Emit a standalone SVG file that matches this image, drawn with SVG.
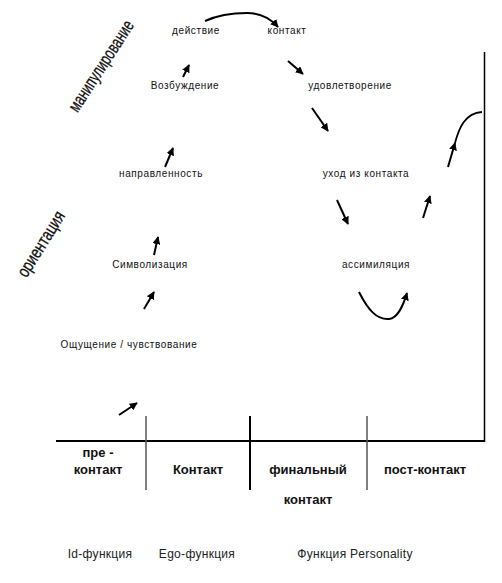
<svg xmlns="http://www.w3.org/2000/svg" width="502" height="583" viewBox="0 0 502 583">
<defs>
<marker id="ah" viewBox="0 0 10 10" refX="9" refY="5" markerWidth="4" markerHeight="4" orient="auto" markerUnits="strokeWidth">
<path d="M0,0 L10,5 L0,10 Z" fill="#000"/>
</marker>
<style>
.n{font-family:"Liberation Sans",Arial,sans-serif;font-size:10px;letter-spacing:0.6px;fill:#111;text-anchor:middle}
.b{font-family:"Liberation Sans",Arial,sans-serif;font-size:13px;font-weight:bold;fill:#111;text-anchor:middle}
.f{font-family:"Liberation Sans",Arial,sans-serif;font-size:12px;letter-spacing:0.3px;fill:#222;text-anchor:middle}
.r{font-family:"Liberation Sans",Arial,sans-serif;font-size:18px;fill:#111;stroke:#111;stroke-width:0.3;text-anchor:middle}
.a{fill:none;stroke:#000;stroke-width:2;marker-end:url(#ah)}
.c{fill:none;stroke:#000;stroke-width:1.8}
</style>
</defs>
<rect width="502" height="583" fill="#fff"/>

<g id="axes">
<line x1="56" y1="441" x2="485" y2="441" stroke="#000" stroke-width="2"/>
<line x1="484.5" y1="52" x2="484.5" y2="442" stroke="#000" stroke-width="1.5"/>
<line x1="146" y1="416" x2="146" y2="490" stroke="#555" stroke-width="1.5"/>
<line x1="250" y1="416" x2="250" y2="490" stroke="#000" stroke-width="2"/>
<line x1="367" y1="416" x2="367" y2="490" stroke="#555" stroke-width="1.5"/>
</g>

<g id="label-manip"><text class="r" transform="translate(101,66) rotate(-57)" y="6" textLength="105" lengthAdjust="spacingAndGlyphs">манипулирование</text></g>
<g id="label-orient"><text class="r" transform="translate(41,244) rotate(-58)" y="6" textLength="74" lengthAdjust="spacingAndGlyphs">ориентация</text></g>

<g id="n-deystvie"><text class="n" x="196" y="34">действие</text></g>
<g id="n-kontakt"><text class="n" x="287" y="34">контакт</text></g>
<g id="n-vozb"><text class="n" x="185" y="89">Возбуждение</text></g>
<g id="n-udovl"><text class="n" x="350" y="89">удовлетворение</text></g>
<g id="n-naprav"><text class="n" x="161" y="177">направленность</text></g>
<g id="n-ukhod"><text class="n" x="366" y="177">уход из контакта</text></g>
<g id="n-simv"><text class="n" x="150" y="268">Символизация</text></g>
<g id="n-assim"><text class="n" x="376" y="268">ассимиляция</text></g>
<g id="n-oshch"><text class="n" x="129" y="348">Ощущение / чувствование</text></g>

<g id="phases">
<text class="b" x="98" y="457">пре -</text>
<text class="b" x="98" y="474">контакт</text>
<text class="b" x="198" y="474">Контакт</text>
<text class="b" x="308" y="474">финальный</text>
<text class="b" x="308" y="504">контакт</text>
<text class="b" x="425" y="474">пост-контакт</text>
</g>

<g id="functions">
<text class="f" x="100" y="558">Id-функция</text>
<text class="f" x="197" y="558">Ego-функция</text>
<text class="f" x="355" y="558">Функция Personality</text>
</g>

<g id="connectors">
<line class="a" x1="119" y1="415" x2="137" y2="403"/>
<line class="a" x1="144" y1="309" x2="154" y2="292"/>
<line class="a" x1="154" y1="255" x2="158" y2="237"/>
<line class="a" x1="165" y1="167" x2="173" y2="148"/>
<line class="a" x1="183" y1="77" x2="189" y2="65"/>
<path class="a" d="M205,21 C218,15 232,13 247,13 C260,13 270,18 278,27"/>
<line class="a" x1="288" y1="61" x2="303" y2="74"/>
<line class="a" x1="312" y1="108" x2="328" y2="131"/>
<line class="a" x1="337" y1="200" x2="348" y2="224"/>
<path class="a" d="M359,292 C368,310 377,320 389,319 C398,318 403,306 407,293"/>
<line class="a" x1="423" y1="218" x2="430" y2="196"/>
<line class="a" x1="448" y1="167" x2="455" y2="143"/>
<path class="c" d="M455,143 C459,128 465,113 482,112"/>
</g>
</svg>
